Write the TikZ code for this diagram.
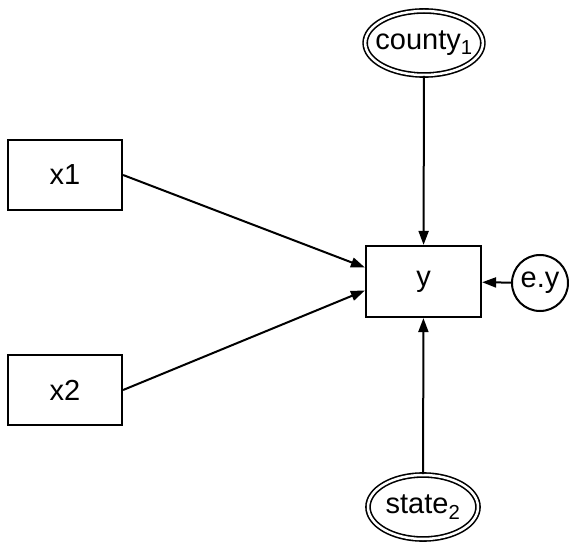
\documentclass[tikz,border=0pt]{standalone}
\usepackage{fontspec}
\setmainfont{Liberation Sans}
\usetikzlibrary{shapes.geometric,arrows.meta}
\begin{document}
\begin{tikzpicture}[x=1pt,y=1pt,
    font=\fontsize{29}{33}\selectfont,
    obsvar/.style={draw,line width=2.2pt,rectangle,minimum width=114pt,minimum height=70pt},
    latvar/.style={draw,line width=1.6pt,double,double distance=2.5pt,ellipse,inner xsep=-7pt,inner ysep=1pt,minimum width=110pt,minimum height=64pt},
    errvar/.style={draw,line width=2pt,circle,inner sep=0pt,minimum size=56pt},
    path/.style={line width=2pt,-{Triangle[length=14pt,width=10pt]}}]
                \useasboundingbox (0,0) rectangle (569,544);
                \node[obsvar] (x1) at (65,369) {x1};
                \node[obsvar] (x2) at (65,154) {x2};
                \node[obsvar,minimum width=115pt,minimum height=71pt] (y) at (423.5,262.5) {y};
                \node[latvar] (county) at (424,501) {county\textsubscript{1}};
                \node[latvar] (state) at (423,37) {state\textsubscript{2}};
                \node[errvar] (ey) at (540,261) {e.y};
                \draw[path] (x1.east) -- ([yshift=14pt]y.west);
                \draw[path] (x2.east) -- ([yshift=-9pt]y.west);
                \draw[path] (county) -- (y);
                \draw[path] (state) -- (y);
                \draw[path] (ey) -- (y);
            \end{tikzpicture}
\end{document}
